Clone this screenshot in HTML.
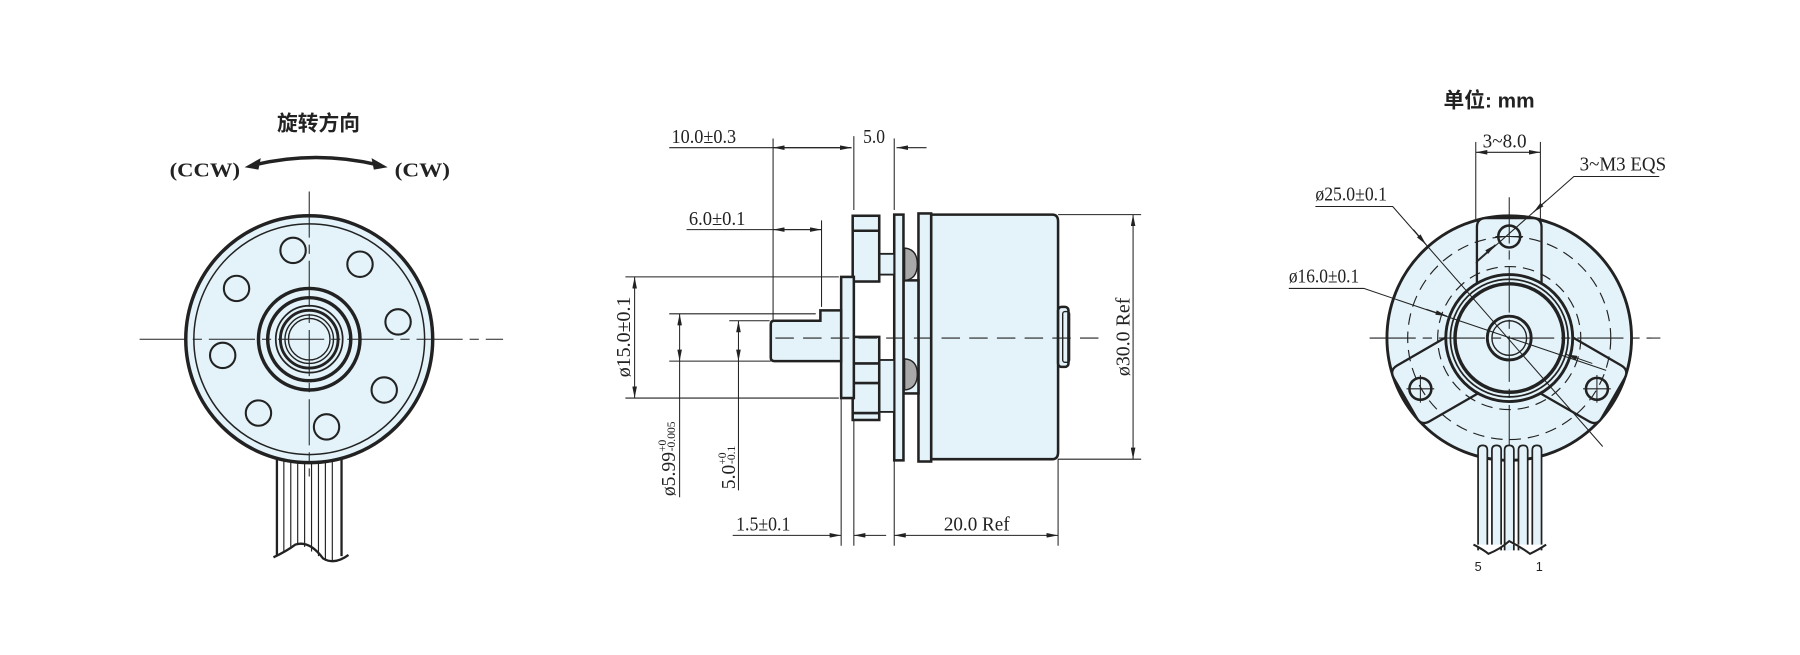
<!DOCTYPE html>
<html><head><meta charset="utf-8"><style>
html,body{margin:0;padding:0;background:#fff;}
svg{display:block;}
.d{font-family:"Liberation Serif",serif;font-size:17px;fill:#222;}
.b{font-family:"Liberation Sans","Noto Sans CJK SC",sans-serif;font-weight:bold;fill:#222;}
</style></head><body>
<svg width="1800" height="655" viewBox="0 0 1560 567.7" preserveAspectRatio="none" xmlns="http://www.w3.org/2000/svg">
<defs>
<marker id="a" viewBox="0 0 10 4" refX="10" refY="2" markerWidth="10" markerHeight="4" orient="auto" markerUnits="userSpaceOnUse"><path d="M0,0L10,2L0,4z" fill="#222"/></marker>
<marker id="as" viewBox="0 0 10 4" refX="0" refY="2" markerWidth="10" markerHeight="4" orient="auto" markerUnits="userSpaceOnUse"><path d="M10,0L0,2L10,4z" fill="#222"/></marker>
</defs>
<g stroke="#222" fill="none">
<!-- LEFT VIEW -->
<text class="b" x="276" y="113" font-size="18" text-anchor="middle" stroke="none">旋转方向</text>
<text class="b" x="147" y="153" font-size="17" stroke="none" style="font-family:'Liberation Serif',serif" textLength="61" lengthAdjust="spacingAndGlyphs">(CCW)</text>
<text class="b" x="342" y="153" font-size="17" stroke="none" style="font-family:'Liberation Serif',serif" textLength="48" lengthAdjust="spacingAndGlyphs">(CW)</text>
<path d="M220,143 Q274,130 328,143" stroke-width="3"/>
<path d="M212,145 L226,137 L224,147z M336,145 L322,137 L324,147z" fill="#222" stroke="none"/>
<!-- cable -->
<rect x="239" y="390" width="58" height="95" fill="#fff" stroke="none"/>
<g stroke-width="1">
<line x1="240" y1="398" x2="240" y2="482" stroke-width="2"/><line x1="246" y1="398" x2="246" y2="478"/><line x1="252" y1="398" x2="252" y2="474"/><line x1="258" y1="398" x2="258" y2="472"/><line x1="264" y1="398" x2="264" y2="474"/><line x1="270" y1="398" x2="270" y2="478"/><line x1="276" y1="398" x2="276" y2="482"/><line x1="282" y1="398" x2="282" y2="486"/><line x1="288" y1="398" x2="288" y2="486"/><line x1="296" y1="398" x2="296" y2="482" stroke-width="2"/>
</g>
<path d="M237,483 Q248,478 256,472 Q268,468 280,484 Q290,490 302,481" stroke-width="2"/>
<circle cx="268" cy="294" r="107" fill="#e3f3f9" stroke-width="3"/>
<circle cx="268" cy="294" r="100" stroke-width="1.3"/>
<g stroke-width="1.8">
<circle cx="254" cy="217" r="11"/><circle cx="312" cy="229" r="11"/><circle cx="205" cy="250" r="11"/><circle cx="345" cy="279" r="11"/><circle cx="193" cy="308" r="11"/><circle cx="333" cy="338" r="11"/><circle cx="224" cy="358" r="11"/><circle cx="283" cy="370" r="11"/>
</g>
<circle cx="268" cy="294" r="44" stroke-width="3"/>
<circle cx="268" cy="294" r="36" stroke-width="3"/>
<circle cx="268" cy="294" r="29" stroke-width="1.5"/>
<circle cx="268" cy="294" r="25" stroke-width="2.5"/>
<circle cx="268" cy="294" r="21" stroke-width="1.2"/>
<circle cx="268" cy="294" r="18" stroke-width="1.2"/>
<line x1="121" y1="294" x2="436" y2="294" stroke-width="0.9" stroke-dasharray="40,6,8,6"/>
<line x1="268" y1="166" x2="268" y2="413" stroke-width="0.9" stroke-dasharray="40,6,8,6"/>

<!-- MIDDLE VIEW -->
<g stroke-width="0.9">
<line x1="670" y1="120" x2="670" y2="277"/>
<line x1="740" y1="118" x2="740" y2="182"/>
<line x1="775" y1="120" x2="775" y2="182"/>
<line x1="580" y1="128" x2="738" y2="128"/>
<line x1="670" y1="128" x2="738" y2="128" marker-start="url(#as)" marker-end="url(#a)"/>
<line x1="803" y1="128" x2="777" y2="128" marker-end="url(#a)"/>
<line x1="595" y1="199" x2="712" y2="199"/>
<line x1="670" y1="199" x2="712" y2="199" marker-start="url(#as)" marker-end="url(#a)"/>
<line x1="712" y1="191" x2="712" y2="266"/>
<line x1="542" y1="240" x2="727" y2="240"/>
<line x1="542" y1="345" x2="727" y2="345"/>
<line x1="550" y1="240" x2="550" y2="345" marker-start="url(#as)" marker-end="url(#a)"/>
<line x1="580" y1="272" x2="707" y2="272"/>
<line x1="580" y1="313" x2="668" y2="313"/>
<line x1="589" y1="272" x2="589" y2="313" marker-start="url(#as)" marker-end="url(#a)"/>
<line x1="589" y1="313" x2="589" y2="431"/>
<line x1="632" y1="278" x2="667" y2="278"/>
<line x1="640" y1="278" x2="640" y2="313" marker-start="url(#as)" marker-end="url(#a)"/>
<line x1="640" y1="313" x2="640" y2="425"/>
<line x1="729" y1="345" x2="729" y2="473"/>
<line x1="740" y1="364" x2="740" y2="473"/>
<line x1="775" y1="399" x2="775" y2="473"/>
<line x1="917" y1="398" x2="917" y2="473"/>
<line x1="635" y1="464" x2="729" y2="464" marker-end="url(#a)"/>
<line x1="768" y1="464" x2="740" y2="464" marker-end="url(#a)"/>
<line x1="775" y1="464" x2="917" y2="464" marker-start="url(#as)" marker-end="url(#a)"/>
<line x1="917" y1="186" x2="989" y2="186"/>
<line x1="917" y1="398" x2="989" y2="398"/>
<line x1="982" y1="186" x2="982" y2="398" marker-start="url(#as)" marker-end="url(#a)"/>
</g>
<text class="d" x="582" y="124" stroke="none" textLength="56" lengthAdjust="spacingAndGlyphs">10.0±0.3</text>
<text class="d" x="748" y="124" stroke="none" textLength="19" lengthAdjust="spacingAndGlyphs">5.0</text>
<text class="d" x="597" y="195" stroke="none" textLength="49" lengthAdjust="spacingAndGlyphs">6.0±0.1</text>
<text class="d" x="638" y="460" stroke="none" textLength="47" lengthAdjust="spacingAndGlyphs">1.5±0.1</text>
<text class="d" x="818" y="460" stroke="none" textLength="57" lengthAdjust="spacingAndGlyphs">20.0 Ref</text>
<text class="d" transform="translate(546,327) rotate(-90)" stroke="none" textLength="70" lengthAdjust="spacingAndGlyphs">ø15.0±0.1</text>
<text class="d" transform="translate(979,326) rotate(-90)" stroke="none" textLength="68" lengthAdjust="spacingAndGlyphs">ø30.0 Ref</text>
<text class="d" transform="translate(585,430) rotate(-90)" stroke="none" font-size="16">ø5.99<tspan font-size="10" dy="-8">+0</tspan><tspan font-size="10" dx="-10" dy="8">-0.005</tspan></text>
<text class="d" transform="translate(637,424) rotate(-90)" stroke="none" font-size="16">5.0<tspan font-size="10" dy="-8">+0</tspan><tspan font-size="10" dx="-10" dy="8">-0.1</tspan></text>
<g fill="#e3f3f9" stroke-width="2.2">
<path d="M807,186 H912 Q917,186 917,192 V392 Q917,398 912,398 H807z"/>
<rect x="917" y="266" width="9" height="52" rx="3"/>
<rect x="921" y="270" width="6" height="44" rx="2" fill="none" stroke-width="1.2"/>
<rect x="796" y="185" width="11" height="215"/>
<rect x="783" y="243" width="13" height="98"/>
<rect x="775" y="186" width="8" height="213"/>
<rect x="762" y="220" width="13" height="18" stroke-width="1.6"/>
<rect x="762" y="312" width="13" height="45" stroke-width="1.6"/>
<rect x="739" y="187" width="23" height="57"/>
<line x1="739" y1="200" x2="762" y2="200"/>
<rect x="739" y="292" width="23" height="72"/>
<line x1="739" y1="315" x2="762" y2="315"/><line x1="739" y1="332" x2="762" y2="332"/><line x1="739" y1="358" x2="762" y2="358"/>
<rect x="729" y="240" width="11" height="105"/>
<path d="M668,281 Q668,278 671,278 H711 V269 H729 V313 H671 Q668,313 668,310z"/>
</g>
<g fill="#a8a8a8" stroke="#222" stroke-width="1.2">
<path d="M784,215 Q795,216 795,229 Q795,242 784,243z"/>
<path d="M784,311 Q795,312 795,324 Q795,337 784,338z"/>
</g>
<line x1="672" y1="293" x2="955" y2="293" stroke-width="0.9" stroke-dasharray="16,8"/>

<!-- RIGHT VIEW -->
<text class="b" x="1251" y="93" font-size="18" stroke="none">单位: mm</text>
<rect x="1280" y="380" width="57" height="98" fill="#fff" stroke="none"/>
<circle cx="1308" cy="293" r="106" fill="#e3f3f9" stroke-width="2.5"/>
<g fill="#e3f3f9" stroke-width="2">
<g transform="translate(1308,293)"><path d="M-28,-45 V-96 Q-28,-104 -20,-104 H20 Q28,-104 28,-96 V-45"/></g>
<g transform="translate(1308,293) rotate(120)"><path d="M-28,-45 V-96 Q-28,-104 -20,-104 H20 Q28,-104 28,-96 V-45"/></g>
<g transform="translate(1308,293) rotate(240)"><path d="M-28,-45 V-96 Q-28,-104 -20,-104 H20 Q28,-104 28,-96 V-45"/></g>
</g>
<circle cx="1308" cy="293" r="88" stroke-width="1" stroke-dasharray="10,6"/>
<circle cx="1308" cy="293" r="62" stroke-width="1" stroke-dasharray="10,6"/>
<circle cx="1308" cy="293" r="55" fill="#e3f3f9" stroke-width="2.5"/>
<circle cx="1308" cy="293" r="51" stroke-width="1.5"/>
<circle cx="1308" cy="293" r="47" stroke-width="3"/>
<circle cx="1308" cy="293" r="19" stroke-width="2.5"/>
<circle cx="1308" cy="293" r="15" stroke-width="1.2"/>
<g stroke-width="2.2"><circle cx="1308" cy="205" r="9.5"/><circle cx="1231" cy="337" r="9.5"/><circle cx="1384" cy="337" r="9.5"/></g>
<g stroke-width="0.9">
<line x1="1296" y1="205" x2="1320" y2="205"/><line x1="1219" y1="337" x2="1243" y2="337"/><line x1="1372" y1="337" x2="1396" y2="337"/>
<line x1="1231" y1="325" x2="1231" y2="349"/><line x1="1384" y1="325" x2="1384" y2="349"/>
<line x1="1187" y1="293" x2="1439" y2="293" stroke-dasharray="40,6,8,6"/>
<line x1="1308" y1="171" x2="1308" y2="411" stroke-dasharray="40,6,8,6"/>
<line x1="1279" y1="123" x2="1279" y2="190"/><line x1="1335" y1="123" x2="1335" y2="190"/>
<line x1="1279" y1="132" x2="1335" y2="132" marker-start="url(#as)" marker-end="url(#a)"/>
<polyline points="1140,179 1207,179 1389,387"/>
<line x1="1225" y1="199" x2="1236" y2="212" marker-end="url(#a)"/>
<polyline points="1117,250 1182,250 1392,321"/>
<line x1="1236" y1="268" x2="1254" y2="274" marker-end="url(#a)"/>
<line x1="1380" y1="315" x2="1357" y2="307" marker-end="url(#a)"/>
<polyline points="1438,153 1364,153 1279,228"/>
<line x1="1340" y1="174" x2="1329" y2="184" marker-end="url(#a)"/>
<line x1="1280" y1="226" x2="1296" y2="212" marker-end="url(#a)"/>
</g>
<g fill="#e3f3f9" stroke-width="1.5">
<path d="M1281,477 V390 Q1281,386 1285,386 Q1289,386 1289,390 V477"/>
<path d="M1293,477 V390 Q1293,386 1297,386 Q1301,386 1301,390 V477"/>
<path d="M1304,477 V390 Q1304,386 1308,386 Q1312,386 1312,390 V477"/>
<path d="M1316,477 V390 Q1316,386 1320,386 Q1324,386 1324,390 V477"/>
<path d="M1328,477 V390 Q1328,386 1332,386 Q1336,386 1336,390 V477"/>
</g>
<path d="M1277,472 Q1285,476 1290,480 Q1300,476 1308,469 Q1318,474 1326,480 Q1334,476 1340,472" stroke-width="1.8" fill="#fff"/>
<text x="1278" y="495" font-family="Liberation Sans,sans-serif" font-size="11" fill="#222" stroke="none">5</text>
<text x="1331" y="495" font-family="Liberation Sans,sans-serif" font-size="11" fill="#222" stroke="none">1</text>
<text class="d" x="1285" y="128" stroke="none" textLength="38" lengthAdjust="spacingAndGlyphs">3~8.0</text>
<text class="d" x="1369" y="148" stroke="none" textLength="75" lengthAdjust="spacingAndGlyphs">3~M3 EQS</text>
<text class="d" x="1140" y="174" stroke="none" textLength="62" lengthAdjust="spacingAndGlyphs">ø25.0±0.1</text>
<text class="d" x="1117" y="245" stroke="none" textLength="61" lengthAdjust="spacingAndGlyphs">ø16.0±0.1</text>
</g>
</svg>
</body></html>
